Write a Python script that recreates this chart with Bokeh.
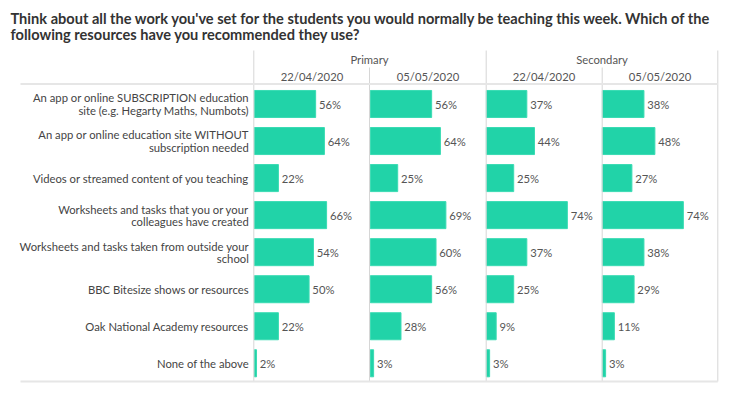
from bokeh.plotting import figure
from bokeh.models import Range1d, ColumnDataSource
from bokeh.core.properties import value
from bokeh.embed import file_html
from bokeh.resources import INLINE

title_lines = ["Think about all the work you've set for the students you would normally be teaching this week. Which of the",
               "following resources have you recommended they use?"]
categories = [
    "An app or online SUBSCRIPTION education\nsite (e.g. Hegarty Maths, Numbots)",
    "An app or online education site WITHOUT\nsubscription needed",
    "Videos or streamed content of you teaching",
    "Worksheets and tasks that you or your\ncolleagues have created",
    "Worksheets and tasks taken from outside your\nschool",
    "BBC Bitesize shows or resources",
    "Oak National Academy resources",
    "None of the above",
]
groups = ["Primary", "Secondary"]
dates = ["22/04/2020", "05/05/2020"]
primary_2204 = [56, 64, 22, 66, 54, 50, 22, 2]
primary_0505 = [56, 64, 25, 69, 60, 56, 28, 3]
secondary_2204 = [37, 44, 25, 74, 37, 25, 9, 3]
secondary_0505 = [38, 48, 27, 74, 38, 29, 11, 3]
series = [primary_2204, primary_0505, secondary_2204, secondary_0505]

# layout (page pixels -> data units); the page has no margin, figure starts at (0, 0)
W, H = 730, 390
PX_PER_UNIT = 1.095
X0 = 253.5           # page x of first panel's zero
PANEL_PX = 116.0
ROW0, ROW_PX = 103.5, 37.04
PANEL = PANEL_PX / PX_PER_UNIT

def X(px):
    return (px - X0) / PX_PER_UNIT

def Y(py):
    return (py - ROW0) / ROW_PX

p = figure(width=W, height=H, output_backend="svg", toolbar_location=None,
           x_range=Range1d(X(0), X(W)), y_range=Range1d(Y(H), Y(0)),
           x_axis_location=None, y_axis_location=None, min_border=0)
p.outline_line_color = None
p.grid.visible = False
p.background_fill_color = "white"
p.border_fill_color = "white"

FONT = value("Lato")
FS = "11.25px"
rows = list(range(len(categories)))

# bars and value labels
for i, vals in enumerate(series):
    off = i * PANEL + 0.3
    src = ColumnDataSource(dict(y=rows, left=[off] * len(vals), right=[off + v for v in vals],
                                lx=[off + v + 3.0 for v in vals], txt=[f"{v}%" for v in vals]))
    p.hbar(y="y", left="left", right="right", height=0.73, source=src,
           fill_color="#21D3A8", line_color="#3ADBB3", line_width=1)
    p.text(x="lx", y="y", text="txt", source=src, text_font=FONT, text_font_size=FS,
           text_color="#555555", text_baseline="middle", text_align="left")

# category labels
p.text(x=[X(248.3)] * len(categories), y=rows, text=categories, text_font=FONT,
       text_font_size=FS, text_color="#444444", text_align="right",
       text_baseline="middle", text_line_height=0.93)

# grid lines
top = Y(50)
bot = Y(381)
p.segment(x0=[X(253.3), X(485.7), X(717.3)], y0=[top] * 3, x1=[X(253.3), X(485.7), X(717.3)], y1=[bot] * 3,
          line_color="#d6d6d6", line_width=1)
p.segment(x0=[X(369), X(601.7)], y0=[Y(67)] * 2, x1=[X(369), X(601.7)], y1=[bot] * 2,
          line_color="#d6d6d6", line_width=1)
p.segment(x0=[X(20), X(20)], y0=[Y(83.5), Y(381)], x1=[X(717.3), X(717.3)], y1=[Y(83.5), Y(381)],
          line_color="#e6e6e6", line_width=2)

# headers
p.text(x=[X(369), X(601.5)], y=[Y(59)] * 2, text=groups, text_font=FONT, text_font_size=FS,
       text_color="#555555", text_align="center", text_baseline="middle")
p.text(x=[X(X0 + (k + 0.5) * PANEL_PX) for k in range(4)], y=[Y(76)] * 4, text=dates * 2,
       text_font=FONT, text_font_size=FS, text_color="#555555", text_align="center",
       text_baseline="middle")

# title
p.text(x=[X(10), X(10)], y=[Y(17.5), Y(33.5)], text=title_lines, text_font=FONT,
       text_font_size="14.6px", text_font_style="bold", text_color="#333333",
       text_align="left", text_baseline="middle")

open("out.html", "w").write(file_html(p, INLINE))
